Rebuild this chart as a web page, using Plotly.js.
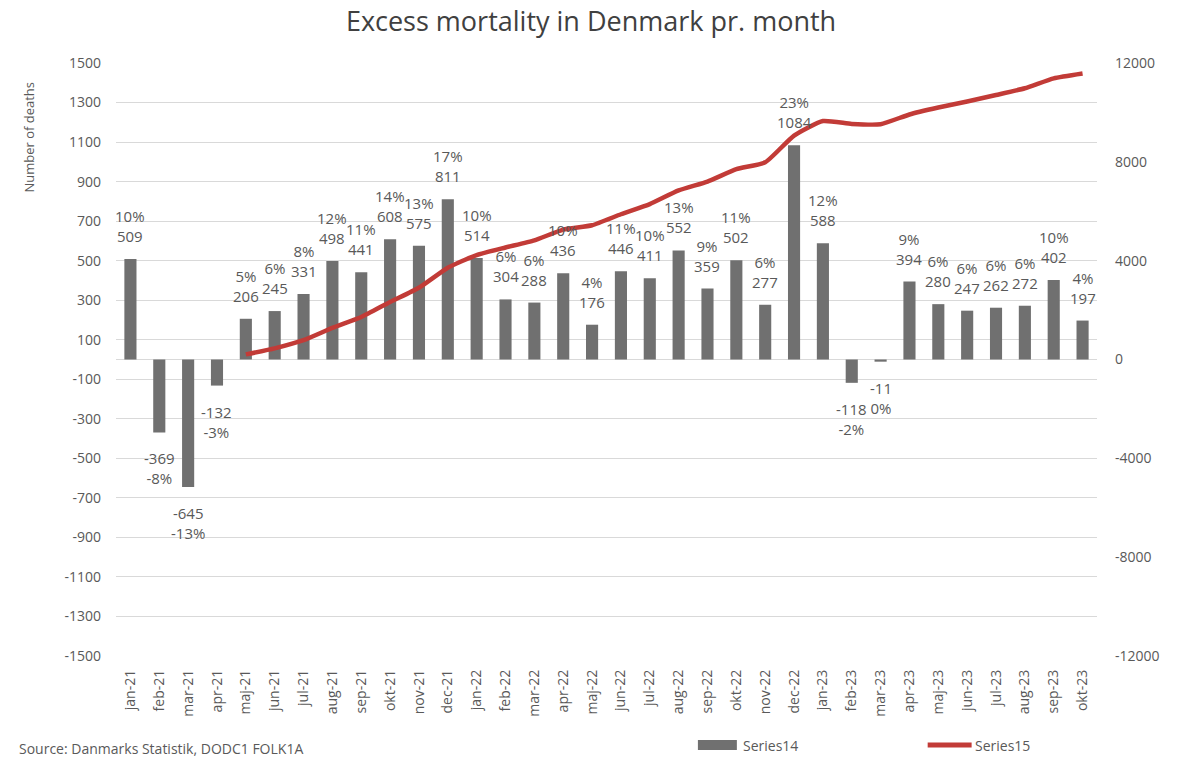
<!DOCTYPE html>
<html>
<head>
<meta charset="utf-8">
<script src="https://cdn.plot.ly/plotly-3.0.1.min.js"></script>
<style>html,body{margin:0;padding:0;background:#fff;}#chart{width:1182px;height:757px;}</style>
</head>
<body>
<div id="chart"></div>
<script>
const months = ["jan-21","feb-21","mar-21","apr-21","maj-21","jun-21","jul-21","aug-21","sep-21","okt-21","nov-21","dec-21",
  "jan-22","feb-22","mar-22","apr-22","maj-22","jun-22","jul-22","aug-22","sep-22","okt-22","nov-22","dec-22",
  "jan-23","feb-23","mar-23","apr-23","maj-23","jun-23","jul-23","aug-23","sep-23","okt-23"];
const excessDeaths = [509,-369,-645,-132,206,245,331,498,441,608,575,811,
  514,304,288,436,176,446,411,552,359,502,277,1084,
  588,-118,-11,394,280,247,262,272,402,197];
const excessPct = [10,-8,-13,-3,5,6,8,12,11,14,13,17,
  10,6,6,10,4,11,10,13,9,11,6,23,
  12,-2,0,9,6,6,6,6,10,4];
const cumulative = [null,null,null,null,206,451,782,1280,1721,2329,2904,3715,
  4229,4533,4821,5257,5433,5879,6290,6842,7201,7703,7980,9064,
  9652,9534,9523,9917,10197,10444,10706,10978,11380,11577];
const leftTicks = [-1500,-1300,-1100,-900,-700,-500,-300,-100,100,300,500,700,900,1100,1300,1500];
const rightTicks = [-12000,-8000,-4000,0,4000,8000,12000];

const FONT = "Open Sans, Noto Sans, sans-serif";
const TXT = "#595959";
const BAR = "#707070";
const RED = "#c23b37";

// plot area in pixels
const L = 115.5, R = 1097.5, T = 63, B = 656;
const W = R - L, H = B - T;
const px = x => (x - L) / W;
const py = y => (B - y) / H;

const labelAnnotations = months.map((m, i) => {
  const v = excessDeaths[i], p = excessPct[i];
  const pos = v >= 0;
  return {
    x: m, y: v, xref: "x", yref: "y",
    text: pos ? (p + "%<br>" + v) : (v + "<br>" + p + "%"),
    showarrow: false,
    yanchor: pos ? "bottom" : "top",
    yshift: pos ? 11 : -14,
    font: {family: FONT, size: 15, color: TXT}
  };
});

const data = [
  {
    type: "bar", name: "Series14", x: months, y: excessDeaths,
    marker: {color: BAR}, yaxis: "y", showlegend: false,
    hoverinfo: "x+y"
  },
  {
    type: "scatter", mode: "lines", name: "Series15", x: months, y: cumulative,
    yaxis: "y2", line: {color: RED, width: 4.5, shape: "spline", smoothing: 0.5},
    connectgaps: false, showlegend: false
  }
];

const layout = {
  width: 1182, height: 757,
  margin: {l: L, r: 1182 - R, t: T, b: 757 - B, pad: 0},
  paper_bgcolor: "#fff", plot_bgcolor: "#fff",
  font: {family: FONT, color: TXT},
  title: {text: "Excess mortality in Denmark pr. month", x: 0.5, xanchor: "center",
          y: 1 - 22/757, yanchor: "middle", font: {family: FONT, size: 27, color: "#404040"}},
  bargap: 0.58,
  xaxis: {
    type: "category", tickangle: -90, tickfont: {size: 14, color: TXT},
    showgrid: false, showline: false, ticks: "", ticklabelstandoff: 10,
    range: [-0.5, months.length - 0.5]
  },
  yaxis: {
    range: [-1500, 1500], tickvals: leftTicks, ticktext: leftTicks.map(String),
    showgrid: true, gridcolor: "#d9d9d9", gridwidth: 1,
    zeroline: true, zerolinecolor: "#d9d9d9", zerolinewidth: 1,
    showline: false, ticks: "", tickfont: {size: 14, color: TXT},
    ticklabelstandoff: 14
  },
  yaxis2: {
    overlaying: "y", side: "right", range: [-12000, 12000],
    tickvals: rightTicks, ticktext: rightTicks.map(String),
    showgrid: false, zeroline: false, showline: false, ticks: "",
    tickfont: {size: 14, color: TXT}, ticklabelstandoff: 17
  },
  shapes: [
    {type: "rect", xref: "paper", yref: "paper", x0: px(698), x1: px(737), y0: py(750), y1: py(740),
     fillcolor: BAR, line: {width: 0}},
    {type: "line", xref: "paper", yref: "paper", x0: px(928), x1: px(972), y0: py(745), y1: py(745),
     line: {color: RED, width: 5}}
  ],
  annotations: labelAnnotations.concat([
    {xref: "paper", yref: "paper", x: px(28), y: py(137), text: "Number of deaths", textangle: -90,
     showarrow: false, xanchor: "center", yanchor: "middle", font: {family: FONT, size: 13, color: TXT}},
    {xref: "paper", yref: "paper", x: px(741), y: py(745), text: "Series14", showarrow: false,
     xanchor: "left", yanchor: "middle", font: {family: FONT, size: 14, color: TXT}},
    {xref: "paper", yref: "paper", x: px(973), y: py(745), text: "Series15", showarrow: false,
     xanchor: "left", yanchor: "middle", font: {family: FONT, size: 14, color: TXT}},
    {xref: "paper", yref: "paper", x: px(16), y: py(737), text: "Source: Danmarks Statistik, DODC1 FOLK1A",
     showarrow: false, xanchor: "left", yanchor: "top", font: {family: FONT, size: 14, color: TXT}}
  ])
};

Plotly.newPlot("chart", data, layout, {displayModeBar: false, staticPlot: true});
</script>
</body>
</html>
